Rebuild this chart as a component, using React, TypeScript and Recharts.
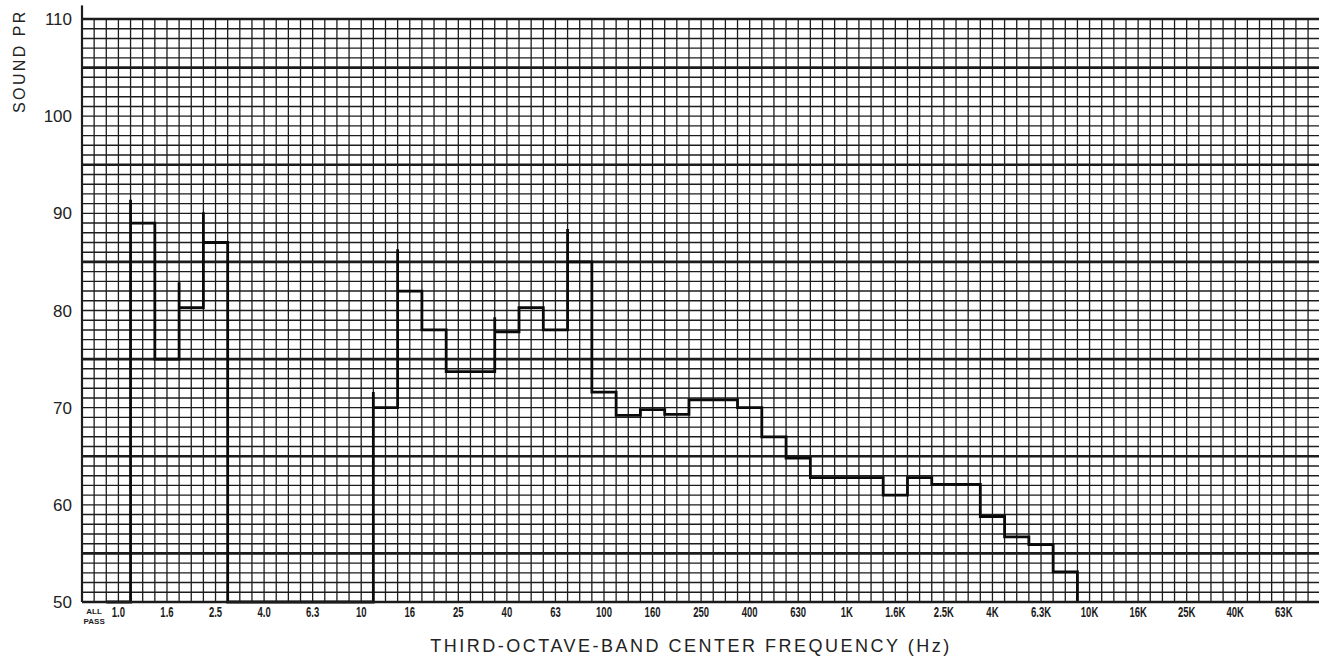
import React from 'react';
import { ComposedChart, Line, XAxis, YAxis, ReferenceLine, Label } from 'recharts';

// Third-octave bands starting at 1.0 Hz (index 0); index -1 is the "ALL PASS" slot
const bands = ['1.0','1.25','1.6','2.0','2.5','3.15','4.0','5.0','6.3','8.0','10','12.5','16','20','25','31.5','40','50','63','80','100','125','160','200','250','315','400','500','630','800','1K','1.25K','1.6K','2K','2.5K','3.15K','4K','5K','6.3K','8K'];
// band level (dB); 50 = at/below chart floor
const levels = [50, 89, 75, 80.3, 87, 50, 50, 50, 50, 50, 50, 70, 82, 78, 73.7, 73.7, 77.8, 80.3, 78, 85, 71.6, 69.2, 69.8, 69.3, 70.8, 70.8, 70, 67, 64.8, 62.8, 62.8, 62.8, 61, 62.8, 62.1, 62.1, 58.8, 56.7, 55.9, 53.1];
// pen overshoot at the start of a band (null = none)
const peaks: (number | null)[] = [null, 91.4, null, 82.9, 90.1, null, null, null, null, null, null, 71.6, 86.3, null, null, null, 79.3, null, null, 88.4, null, null, null, null, null, null, null, null, null, null, null, null, null, null, null, null, null, null, null, null];
const tickLabels = ['1.0','1.6','2.5','4.0','6.3','10','16','25','40','63','100','160','250','400','630','1K','1.6K','2.5K','4K','6.3K','10K','16K','25K','40K','63K'];
const yTicks = [50, 60, 70, 80, 90, 100, 110];

const trace: { x: number; y: number }[] = [];
levels.forEach((v, i) => {
  const p = peaks[i];
  if (p != null) trace.push({ x: i - 0.5, y: p });
  trace.push({ x: i - 0.5, y: v });
  trace.push({ x: i + 0.5, y: v });
});
trace.push({ x: levels.length - 0.5, y: 50 });

const xTicks = [-1, ...tickLabels.map((_, i) => i * 2)];
const hGrid: number[] = [];
for (let v = 51; v <= 110; v++) hGrid.push(v);
const vGrid: number[] = [];
for (let j = 1; j <= 101; j++) vGrid.push(-1.5 + 0.5 * j);

const FONT = "'Liberation Sans', Arial, Helvetica, sans-serif";
const INK = '#1c1c1c';

const XTick = (props: any) => {
  const { x, y, payload } = props;
  const k = payload.value;
  if (k === -1) {
    return (
      <g>
        <text x={x} y={y + 12} textAnchor="middle" fontSize={8} fontWeight="bold" fontFamily={FONT} fill={INK}>ALL</text>
        <text x={x} y={y + 22} textAnchor="middle" fontSize={8} fontWeight="bold" fontFamily={FONT} fill={INK}>PASS</text>
      </g>
    );
  }
  const label = tickLabels[k / 2];
  return (
    <text
      transform={`translate(${x},${y + 15}) scale(0.68,1)`}
      textAnchor="middle"
      fontSize={14}
      fontWeight="bold"
      fontFamily={FONT}
      fill={INK}
    >
      {label}
    </text>
  );
};

export default function App() {
  return (
    <div style={{ position: 'absolute', left: 0, top: 0, width: 1319, height: 660, background: '#fff' }}>
      <ComposedChart width={1319} height={660} data={trace} margin={{ top: 19, right: 0, bottom: 0, left: 0 }}>
        <XAxis
          type="number"
          dataKey="x"
          domain={[-1.5, 49.45]}
          ticks={xTicks}
          interval={0}
          allowDataOverflow
          tickLine={false}
          tickSize={0}
          tickMargin={0}
          height={58}
          axisLine={{ stroke: INK, strokeWidth: 2.6 }}
          tick={<XTick />}
        >
          <Label
            content={() => (
              <text x={691} y={652} textAnchor="middle" fontSize={18} letterSpacing={2.5} fontFamily={FONT} fill="#222">
                THIRD-OCTAVE-BAND CENTER FREQUENCY (Hz)
              </text>
            )}
          />
        </XAxis>
        <YAxis
          type="number"
          domain={[50, 110]}
          ticks={yTicks}
          width={82}
          tickLine={false}
          tickSize={0}
          tickMargin={10}
          axisLine={{ stroke: INK, strokeWidth: 2.2 }}
          tick={{ fontSize: 17, fill: '#222', fontFamily: FONT }}
        >
          <Label
            content={() => (
              <text transform="translate(25,113) rotate(-90)" fontSize={16} letterSpacing={2.4} fontFamily={FONT} fill="#222">
                SOUND PR
              </text>
            )}
          />
        </YAxis>
        {vGrid.map((k) => (
          <ReferenceLine key={'v' + k} x={k} stroke={INK} strokeWidth={1.3} />
        ))}
        {hGrid.map((v) => (
          <ReferenceLine
            key={'h' + v}
            y={v}
            stroke={INK}
            strokeWidth={v % 10 === 5 || v === 110 ? 2.6 : 1.4}
          />
        ))}
        <ReferenceLine
          segment={[{ x: -1.5, y: 110 }, { x: -1.5, y: 111.4 }]}
          ifOverflow="visible"
          stroke={INK}
          strokeWidth={2.2}
        />
        <Line
          type="linear"
          dataKey="y"
          stroke="#0a0a0a"
          strokeWidth={2.8}
          dot={false}
          isAnimationActive={false}
        />
      </ComposedChart>
    </div>
  );
}
